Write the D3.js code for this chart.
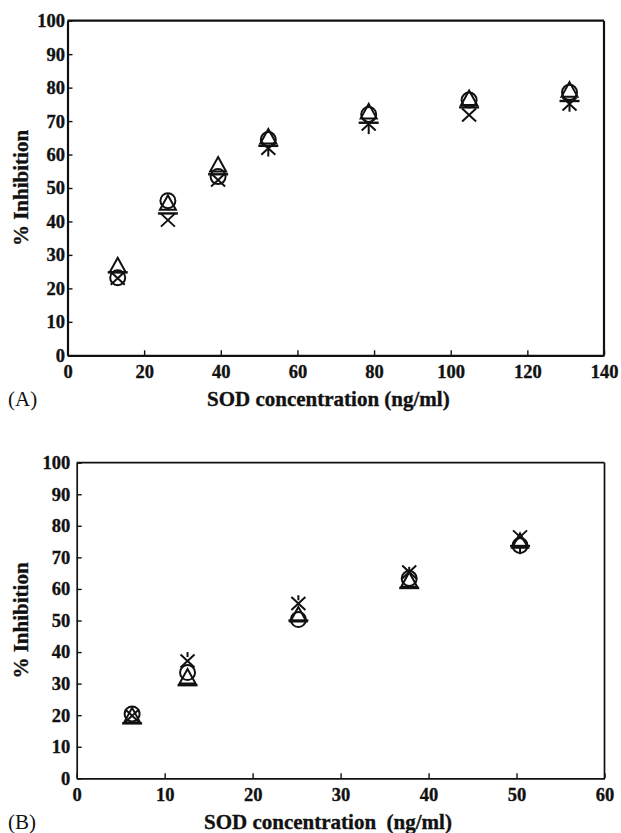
<!DOCTYPE html>
<html><head><meta charset="utf-8">
<script src="https://cdn.jsdelivr.net/npm/d3@7"></script>
<style>body{margin:0;background:#fff}svg{display:block}</style>
</head><body>
<svg id="c" width="621" height="833"></svg>
<script>
// ---- Panel A data ----
const xA = [13.1, 26.2, 39.3, 52.4, 78.6, 104.8, 131];
const circleA = [23.2, 46.2, 53.4, 64.5, 72.0, 76.3, 78.6];
const triangleA = [26.3, 45.0, 56.4, 64.8, 72.3, 76.3, 78.8];
const crossA = [23.0, 40.4, 52.4, 61.9, 69.1, 71.8, 75.1];
const dashA = [24.8, 42.4, 54.1, 62.6, 69.5, 74.1, 76.0];
const dashLowErrA = [0, 0, 0, 3.2, 3.4, 0, 3.2];
const xTicksA = [0, 20, 40, 60, 80, 100, 120, 140];
const yTicks = [0, 10, 20, 30, 40, 50, 60, 70, 80, 90, 100];

// ---- Panel B data ----
const xB = [6.3, 12.6, 25.2, 37.8, 50.4];
const circleB = [20.4, 33.5, 50.3, 63.3, 73.8];
const triangleB = [19.3, 31.6, 51.3, 62.3, 74.6];
const crossB = [19.8, 37.2, 55.4, 65.4, 76.5];
const dashB = [17.4, 29.5, 50.0, 60.3, 73.6];
const crossUpErrB = [0, 2.8, 2.6, 1.6, 0];
const dashLowErrB = [0, 0, 0, 0, 2.6];
const xTicksB = [0, 10, 20, 30, 40, 50, 60];

const svg = d3.select("#c");
const serif = "'Liberation Serif','Times New Roman',serif";

function panel(cfg) {
  const x = d3.scaleLinear().domain([0, cfg.xMax]).range([cfg.left, cfg.right]);
  const y = d3.scaleLinear().domain([0, 100]).range([cfg.bottom, cfg.top]);
  const g = svg.append("g");

  const ax = g.append("g").attr("transform", `translate(0,${cfg.bottom})`)
    .call(d3.axisBottom(x).tickValues(cfg.xTicks).tickFormat(d3.format("d"))
      .tickSizeInner(-5).tickSizeOuter(0).tickPadding(cfg.xPad));
  const ay = g.append("g").attr("transform", `translate(${cfg.left},0)`)
    .call(d3.axisLeft(y).tickValues(yTicks).tickFormat(d3.format("d"))
      .tickSizeInner(-5).tickSizeOuter(0).tickPadding(cfg.yPad));
  [ax, ay].forEach(a => {
    a.selectAll("path.domain").attr("stroke", "#111").attr("stroke-width", cfg.sw);
    a.selectAll(".tick line").attr("stroke", "#111").attr("stroke-width", 1.4);
    a.selectAll("text").attr("font-family", serif).attr("font-weight", "bold")
      .attr("font-size", 18.5).attr("fill", "#111")
      .attr("stroke", "#111").attr("stroke-width", 0.35);
  });
  // top and right frame
  g.append("line").attr("x1", cfg.left).attr("x2", cfg.right).attr("y1", cfg.top).attr("y2", cfg.top)
    .attr("stroke", "#111").attr("stroke-width", cfg.sw);
  g.append("line").attr("x1", cfg.right).attr("x2", cfg.right).attr("y1", cfg.top).attr("y2", cfg.bottom)
    .attr("stroke", "#111").attr("stroke-width", cfg.sw);

  // titles
  g.append("text").attr("x", cfg.titleX).attr("y", cfg.titleY)
    .attr("font-family", serif).attr("font-weight", "bold").attr("font-size", 21)
    .attr("fill", "#111").attr("stroke", "#111").attr("stroke-width", 0.35)
    .style("white-space", "pre").text(cfg.xTitle);
  g.append("text").attr("x", 8).attr("y", cfg.titleY)
    .attr("font-family", serif).attr("font-size", 21).attr("fill", "#111").text(cfg.tag);
  g.append("text").attr("transform", `translate(${28},${(cfg.top + cfg.bottom) / 2}) rotate(-90)`)
    .attr("text-anchor", "middle")
    .attr("font-family", serif).attr("font-weight", "bold").attr("font-size", 21)
    .attr("fill", "#111").attr("stroke", "#111").attr("stroke-width", 0.35)
    .text("% Inhibition");

  const mk = g.append("g").attr("fill", "none").attr("stroke", "#111").attr("stroke-width", 2);
  const xs = cfg.xs;
  // error bars
  cfg.lowErr.forEach((e, i) => {
    if (e > 0) mk.append("line").attr("x1", x(xs[i])).attr("x2", x(xs[i]))
      .attr("y1", y(cfg.dash[i])).attr("y2", y(cfg.dash[i] - e));
  });
  if (cfg.upErr) cfg.upErr.forEach((e, i) => {
    if (e > 0) mk.append("line").attr("x1", x(xs[i])).attr("x2", x(xs[i]))
      .attr("y1", y(cfg.cross[i] + e)).attr("y2", y(cfg.cross[i] + e) + 5);
  });
  // circles
  cfg.circle.forEach((v, i) => mk.append("circle").attr("cx", x(xs[i])).attr("cy", y(v)).attr("r", 7.5));
  // triangles
  cfg.triangle.forEach((v, i) => {
    const cx = x(xs[i]), cy = y(v);
    mk.append("path").attr("d", `M${cx},${cy - 9.5}L${cx + 8},${cy + 5}L${cx - 8},${cy + 5}Z`);
  });
  // crosses
  cfg.cross.forEach((v, i) => {
    const cx = x(xs[i]), cy = y(v);
    mk.append("path").attr("d", `M${cx - 7},${cy - 6.5}L${cx + 7},${cy + 6.5}M${cx - 7},${cy + 6.5}L${cx + 7},${cy - 6.5}`);
  });
  // dashes
  cfg.dash.forEach((v, i) => {
    const cx = x(xs[i]), cy = y(v);
    mk.append("path").attr("d", `M${cx - 10},${cy}L${cx + 10},${cy}`).attr("stroke-width", 2.4);
  });
}

panel({
  xMax: 140, left: 67.5, right: 604, top: 20.7, bottom: 355.3, sw: 2.2,
  xTicks: xTicksA, xPad: 10, yPad: 2.5, xs: xA,
  circle: circleA, triangle: triangleA, cross: crossA, dash: dashA,
  lowErr: dashLowErrA, upErr: null,
  xTitle: "SOD concentration (ng/ml)", titleX: 207, titleY: 406, tag: "(A)"
});
panel({
  xMax: 60, left: 76.7, right: 604.5, top: 462.7, bottom: 778.3, sw: 1.7,
  xTicks: xTicksB, xPad: 10, yPad: 6.5, xs: xB,
  circle: circleB, triangle: triangleB, cross: crossB, dash: dashB,
  lowErr: dashLowErrB, upErr: crossUpErrB,
  xTitle: "SOD concentration  (ng/ml)", titleX: 204, titleY: 829, tag: "(B)"
});
</script>
</body></html>
